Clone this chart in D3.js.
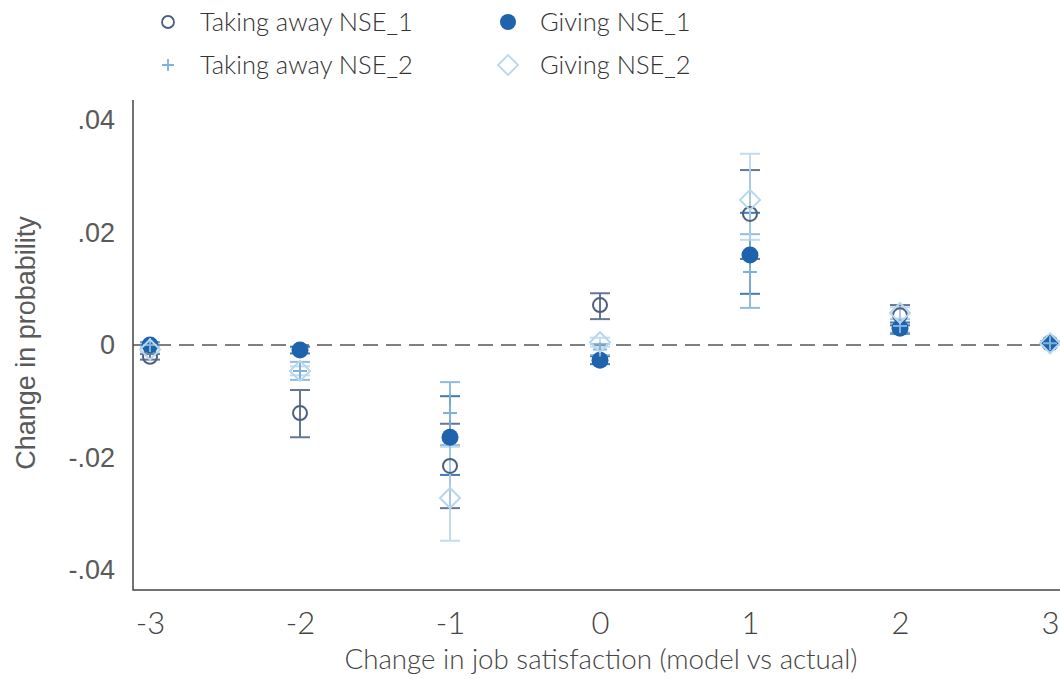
<!DOCTYPE html>
<html><head><meta charset="utf-8">
<script src="https://cdn.jsdelivr.net/npm/d3@7"></script>
<style>body{margin:0;background:#fff}svg{display:block}</style>
</head><body><svg id="c" width="1060" height="679"></svg>
<script>
const xVals = [-3, -2, -1, 0, 1, 2, 3];
const yTicks = [-0.04, -0.02, 0, 0.02, 0.04];
const yTickLabels = ["-.04", "-.02", "0", ".02", ".04"];
const seriesNames = ["Taking away NSE_1", "Giving NSE_1", "Taking away NSE_2", "Giving NSE_2"];

const takeNSE1   = [-0.0021, -0.0121, -0.0215, 0.0071, 0.0233, 0.0053, 0.0003];
const takeNSE1Lo = [-0.0026, -0.0164, -0.0290, 0.0046, 0.0153, 0.0035, 0.0001];
const takeNSE1Hi = [-0.0016, -0.0080, -0.0140, 0.0092, 0.0311, 0.0071, 0.0005];

const giveNSE1   = [0.0000, -0.0009, -0.0164, -0.0027, 0.0160, 0.0030, 0.0003];
const giveNSE1Lo = [-0.0005, -0.0015, -0.0231, -0.0034, 0.0091, 0.0020, 0.0000];
const giveNSE1Hi = [0.0005, -0.0003, -0.0091, -0.0020, 0.0235, 0.0040, 0.0006];

const takeNSE2   = [0.0000, -0.0046, -0.0121, -0.0008, 0.0130, 0.0034, 0.0003];
const takeNSE2Lo = [-0.0005, -0.0062, -0.0178, -0.0018, 0.0066, 0.0022, 0.0000];
const takeNSE2Hi = [0.0005, -0.0030, -0.0066, 0.0002, 0.0197, 0.0046, 0.0006];

const giveNSE2   = [-0.0008, -0.0046, -0.0272, 0.0005, 0.0258, 0.0057, 0.0003];
const giveNSE2Lo = [-0.0013, -0.0054, -0.0348, -0.0003, 0.0187, 0.0047, 0.0000];
const giveNSE2Hi = [-0.0003, -0.0038, -0.0181, 0.0013, 0.0340, 0.0067, 0.0006];

const colors = ["#4d5f80", "#1f63ad", "#7fb1da", "#b7d7ee"];
const shapes = ["circleOpen", "circleFilled", "plus", "diamond"];

const series = [
  {est: takeNSE1, lo: takeNSE1Lo, hi: takeNSE1Hi},
  {est: giveNSE1, lo: giveNSE1Lo, hi: giveNSE1Hi},
  {est: takeNSE2, lo: takeNSE2Lo, hi: takeNSE2Hi},
  {est: giveNSE2, lo: giveNSE2Lo, hi: giveNSE2Hi}
].map((s, i) => ({name: seriesNames[i], color: colors[i], shape: shapes[i],
  pts: xVals.map((x, j) => ({x, y: s.est[j], lo: s.lo[j], hi: s.hi[j]}))}));

const svg = d3.select("#c");
const x = d3.scaleLinear().domain([-3, 3]).range([150, 1050]);
const y = d3.scaleLinear().domain([-0.04, 0.04]).range([570, 120]);
const pLeft = 133, pBottom = 590, pTop = 100, pRight = 1060;
const latoFont = "Lato, 'Liberation Sans', sans-serif";
const sansFont = "'Liberation Sans', Arial, sans-serif";

// zero dashed line
svg.append("line").attr("x1", pLeft).attr("x2", pRight).attr("y1", y(0)).attr("y2", y(0))
  .attr("stroke", "#555").attr("stroke-width", 1.6).attr("stroke-dasharray", "15,8");

// axes
const yAxis = d3.axisLeft(y).tickValues(yTicks).tickFormat((d, i) => yTickLabels[i]).tickSize(0).tickPadding(18);
const gy = svg.append("g").attr("transform", `translate(${pLeft},0)`).call(yAxis);
gy.select(".domain").remove();
gy.selectAll("text").attr("font-family", sansFont).attr("font-size", 27).attr("fill", "#5a5a5a");

const xAxis = d3.axisBottom(x).tickValues(xVals).tickFormat(d3.format("d")).tickSize(0).tickPadding(22);
const gx = svg.append("g").attr("transform", `translate(0,${pBottom})`).call(xAxis);
gx.select(".domain").remove();
gx.selectAll("text").attr("font-family", latoFont).attr("font-weight", 300).attr("font-size", 31).attr("fill", "#444")
  .text(d => d < 0 ? "-" + Math.abs(d) : d);

svg.append("path").attr("d", `M${pLeft},${pTop}V${pBottom}H${pRight}`).attr("fill", "none")
  .attr("stroke", "#444").attr("stroke-width", 1.5);

// titles
svg.append("text").attr("x", 601).attr("y", 669).attr("text-anchor", "middle")
  .attr("font-family", latoFont).attr("font-weight", 300).attr("font-size", 27).attr("fill", "#444")
  .attr("textLength", 513).attr("lengthAdjust", "spacingAndGlyphs")
  .text("Change in job satisfaction (model vs actual)");
svg.append("text").attr("transform", `translate(35,343) rotate(-90)`).attr("text-anchor", "middle")
  .attr("font-family", sansFont).attr("font-size", 27).attr("fill", "#5a5a5a")
  .text("Change in probability");

// error bars
series.forEach(s => {
  const g = svg.append("g").attr("stroke", s.color).attr("stroke-width", 2).attr("opacity", 0.85);
  s.pts.forEach(p => {
    g.append("line").attr("x1", x(p.x)).attr("x2", x(p.x)).attr("y1", y(p.lo)).attr("y2", y(p.hi));
    [p.lo, p.hi].forEach(v => g.append("line").attr("x1", x(p.x) - 10).attr("x2", x(p.x) + 10)
      .attr("y1", y(v)).attr("y2", y(v)));
  });
});

function marker(g, shape, color, cx, cy) {
  if (shape === "circleOpen") {
    g.append("circle").attr("cx", cx).attr("cy", cy).attr("r", 7).attr("fill", "none")
      .attr("stroke", color).attr("stroke-width", 2);
  } else if (shape === "circleFilled") {
    g.append("circle").attr("cx", cx).attr("cy", cy).attr("r", 8.5).attr("fill", color);
  } else if (shape === "plus") {
    g.append("path").attr("d", `M${cx - 7},${cy}H${cx + 7}M${cx},${cy - 7}V${cy + 7}`)
      .attr("stroke", color).attr("stroke-width", 2);
  } else {
    g.append("path").attr("d", `M${cx},${cy - 10}L${cx + 10},${cy}L${cx},${cy + 10}L${cx - 10},${cy}Z`)
      .attr("fill", "none").attr("stroke", color).attr("stroke-width", 2);
  }
}

series.forEach(s => {
  const g = svg.append("g");
  s.pts.forEach(p => marker(g, s.shape, s.color, x(p.x), y(p.y)));
});

// legend
const legPos = [[168, 22, 200], [508, 22, 540], [168, 65, 200], [508, 65, 540]];
series.forEach((s, i) => {
  const [mx, my, tx] = legPos[i];
  const g = svg.append("g");
  if (s.shape === "circleOpen") {
    g.append("circle").attr("cx", mx).attr("cy", my).attr("r", 6).attr("fill", "none").attr("stroke", s.color).attr("stroke-width", 1.8);
  } else if (s.shape === "circleFilled") {
    g.append("circle").attr("cx", mx).attr("cy", my).attr("r", 8).attr("fill", s.color);
  } else if (s.shape === "plus") {
    g.append("path").attr("d", `M${mx - 6},${my}H${mx + 6}M${mx},${my - 6}V${my + 6}`).attr("stroke", s.color).attr("stroke-width", 1.8);
  } else {
    g.append("path").attr("d", `M${mx},${my - 10}L${mx + 10},${my}L${mx},${my + 10}L${mx - 10},${my}Z`).attr("fill", "none").attr("stroke", s.color).attr("stroke-width", 1.8);
  }
  g.append("text").attr("x", tx).attr("y", my).attr("dy", "0.36em")
    .attr("font-family", latoFont).attr("font-weight", 300).attr("font-size", 25.5).attr("fill", "#333").text(s.name);
});
</script></body></html>
